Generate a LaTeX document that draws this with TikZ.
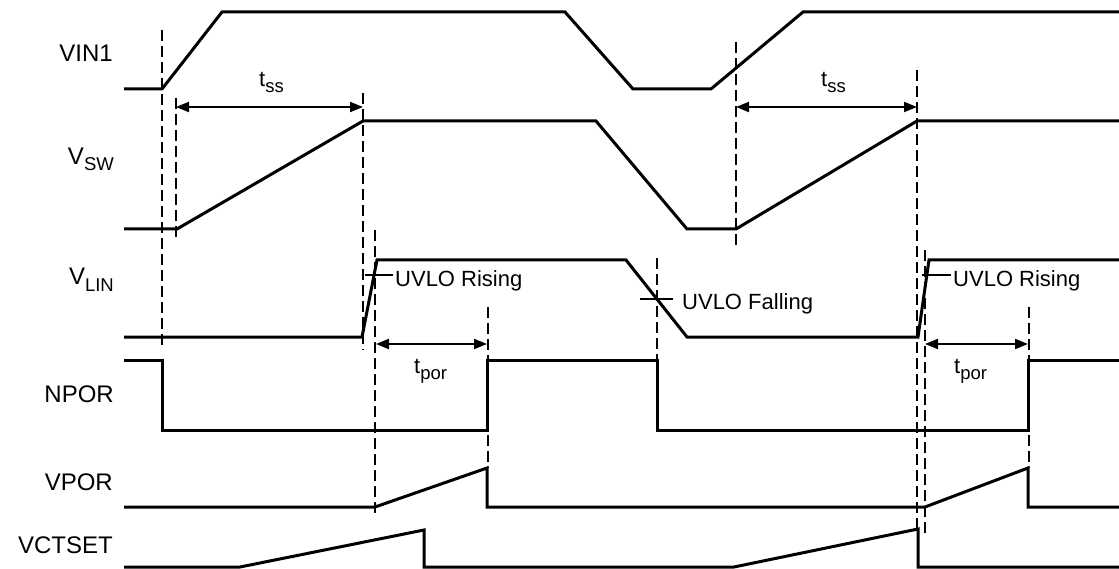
\documentclass[tikz,border=0pt]{standalone}
\usepackage{fontspec}
\setmainfont{Liberation Sans}
\usetikzlibrary{arrows.meta}
\newcommand{\lsub}[1]{\raisebox{-6pt}{\fontsize{18.5}{18.5}\selectfont #1}}
\begin{document}
\begin{tikzpicture}[x=1pt,y=-1pt,
  sig/.style={line width=3pt, line join=miter, line cap=butt},
  guide/.style={line width=1.5pt, dash pattern=on 11pt off 5pt},
  dimarrow/.style={line width=2pt, {Triangle[length=13pt,width=10pt]}-{Triangle[length=13pt,width=10pt]}},
  lbl/.style={font=\fontsize{24}{24}\selectfont, anchor=base east, inner sep=0pt},
  ann/.style={font=\fontsize{22}{22}\selectfont, anchor=base west, inner sep=0pt},
  tickmark/.style={line width=1.2pt}]
\useasboundingbox (0,0) rectangle (1119,569);

% signal labels
\node[lbl] (lvin) at (113,62) {VIN1};
\node[lbl] (lvsw) at (114,165) {V\lsub{SW}};
\node[lbl] (lvlin) at (114,285) {V\lsub{LIN}};
\node[lbl] (lnpor) at (114,402) {NPOR};
\node[lbl] (lvpor) at (113,490) {VPOR};
\node[lbl] (lvct) at (113,553) {VCTSET};

% dashed guides
\draw[guide] (162,30) -- (162,350);
\draw[guide] (176,98) -- (176,242);
\draw[guide] (363,93) -- (363,350);
\draw[guide] (375,230) -- (375,517);
\draw[guide] (488,307) -- (488,468);
\draw[guide] (657,258) -- (657,360);
\draw[guide] (736,42) -- (736,247);
\draw[guide] (917,70) -- (917,529);
\draw[guide] (925,250) -- (925,535);
\draw[guide] (1029,307) -- (1029,468);

% signals
\draw[sig] (124,89) -- (162,89) -- (222,12) -- (565,12) -- (633,89) -- (711,89) -- (803,12) -- (1119,12);
\draw[sig] (124,229) -- (177,229) -- (363,121) -- (596,121) -- (687,229) -- (736,229) -- (917,121) -- (1119,121);
\draw[sig] (124,337) -- (362,337) -- (377,260) -- (626,260) -- (687,337) -- (918,337) -- (929,260) -- (1119,260);
\draw[sig] (124,360) -- (162,360) -- (162,430) -- (487,430) -- (487,360) -- (657,360) -- (657,430) -- (1028,430) -- (1028,360) -- (1119,360);
\draw[sig] (124,507) -- (375,507) -- (487,468) -- (487,507) -- (925,507) -- (1028,468) -- (1028,507) -- (1119,507);
\draw[sig] (124,567) -- (240,567) -- (424,530) -- (424,567) -- (734,567) -- (918,529) -- (918,567) -- (1119,567);

% timing dimensions
\coordinate (ss1a) at (176,107); \coordinate (ss1b) at (363,107);
\coordinate (ss2a) at (736,107); \coordinate (ss2b) at (917,107);
\coordinate (por1a) at (376,344); \coordinate (por1b) at (487,344);
\coordinate (por2a) at (925,344); \coordinate (por2b) at (1028,344);
\draw[dimarrow] (ss1a) -- (ss1b);
\draw[dimarrow] (ss2a) -- (ss2b);
\draw[dimarrow] (por1a) -- (por1b);
\draw[dimarrow] (por2a) -- (por2b);
\node[ann] (tss1) at (259,87) {t\lsub{ss}};
\node[ann] (tss2) at (821,87) {t\lsub{ss}};
\node[ann] (tpor1) at (414,373) {t\lsub{por}};
\node[ann] (tpor2) at (954,373) {t\lsub{por}};

% UVLO marks
\coordinate (r1a) at (365,275); \coordinate (r1b) at (393,275);
\coordinate (r2a) at (922,275); \coordinate (r2b) at (951,275);
\coordinate (fa) at (640,299); \coordinate (fb) at (673,299);
\draw[tickmark] (r1a) -- (r1b);
\draw[tickmark] (r2a) -- (r2b);
\draw[tickmark] (fa) -- (fb);
\node[ann] (uvr1) at (395,287) {UVLO Rising};
\node[ann] (uvr2) at (953,287) {UVLO Rising};
\node[ann] (uvf) at (682,310) {UVLO Falling};
\end{tikzpicture}
\end{document}
